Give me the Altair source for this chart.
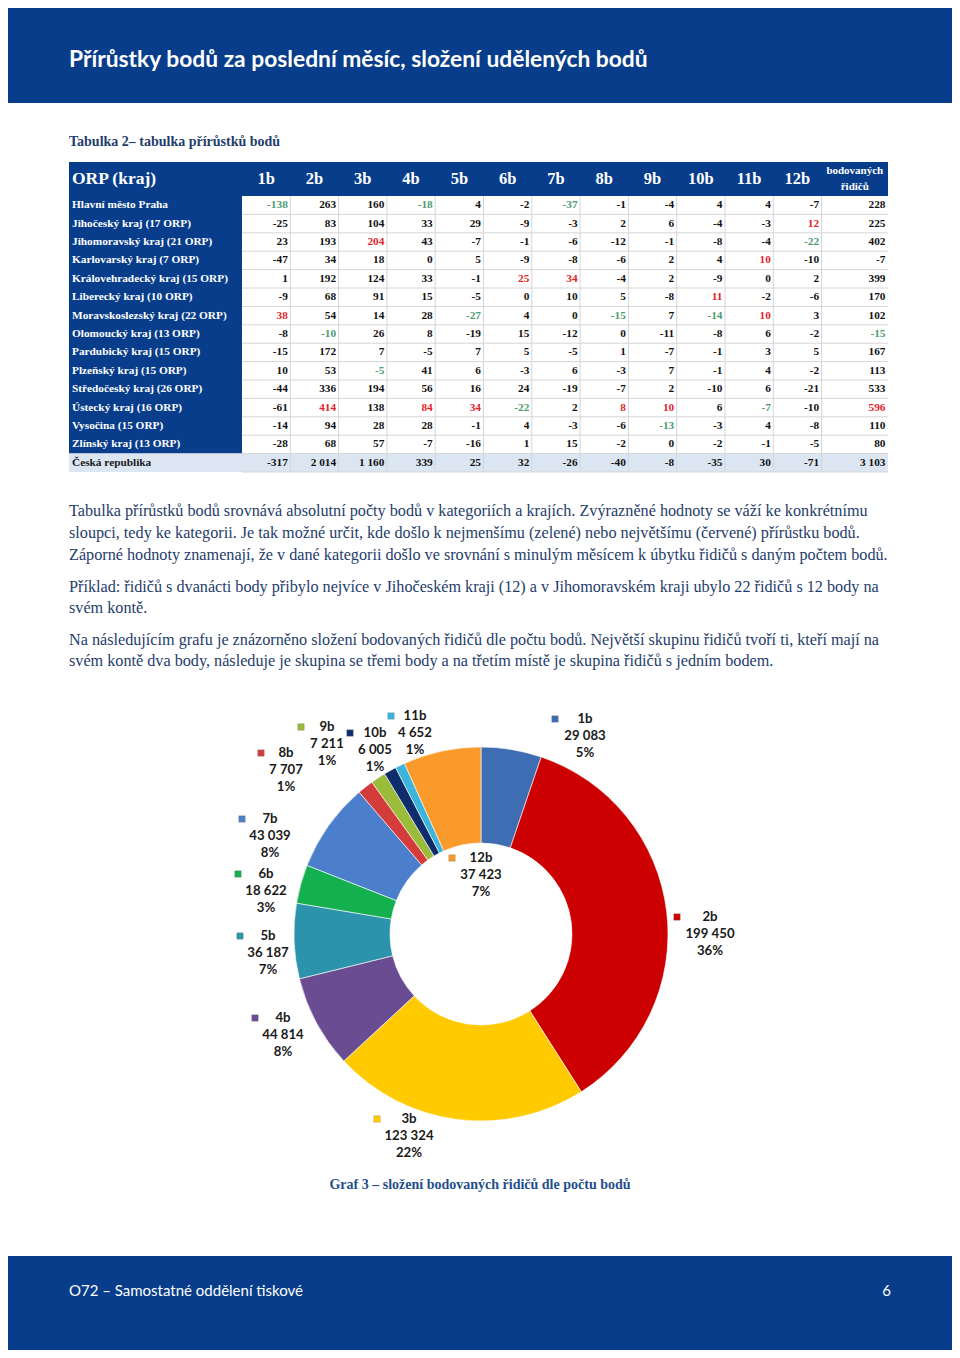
import altair as alt
import pandas as pd

# ---------------- data ----------------
regions = [
    "Hlavní město Praha", "Jihočeský kraj (17 ORP)", "Jihomoravský kraj (21 ORP)",
    "Karlovarský kraj (7 ORP)", "Královehradecký kraj (15 ORP)", "Liberecký kraj (10 ORP)",
    "Moravskoslezský kraj (22 ORP)", "Olomoucký kraj (13 ORP)", "Pardubický kraj (15 ORP)",
    "Plzeňský kraj (15 ORP)", "Středočeský kraj (26 ORP)", "Ústecký kraj (16 ORP)",
    "Vysočina (15 ORP)", "Zlínský kraj (13 ORP)", "Česká republika",
]
columns = ["1b", "2b", "3b", "4b", "5b", "6b", "7b", "8b", "9b", "10b", "11b", "12b", "total"]

praha = [-138, 263, 160, -18, 4, -2, -37, -1, -4, 4, 4, -7, 228]
jihocesky = [-25, 83, 104, 33, 29, -9, -3, 2, 6, -4, -3, 12, 225]
jihomoravsky = [23, 193, 204, 43, -7, -1, -6, -12, -1, -8, -4, -22, 402]
karlovarsky = [-47, 34, 18, 0, 5, -9, -8, -6, 2, 4, 10, -10, -7]
kralovehradecky = [1, 192, 124, 33, -1, 25, 34, -4, 2, -9, 0, 2, 399]
liberecky = [-9, 68, 91, 15, -5, 0, 10, 5, -8, 11, -2, -6, 170]
moravskoslezsky = [38, 54, 14, 28, -27, 4, 0, -15, 7, -14, 10, 3, 102]
olomoucky = [-8, -10, 26, 8, -19, 15, -12, 0, -11, -8, 6, -2, -15]
pardubicky = [-15, 172, 7, -5, 7, 5, -5, 1, -7, -1, 3, 5, 167]
plzensky = [10, 53, -5, 41, 6, -3, 6, -3, 7, -1, 4, -2, 113]
stredocesky = [-44, 336, 194, 56, 16, 24, -19, -7, 2, -10, 6, -21, 533]
ustecky = [-61, 414, 138, 84, 34, -22, 2, 8, 10, 6, -7, -10, 596]
vysocina = [-14, 94, 28, 28, -1, 4, -3, -6, -13, -3, 4, -8, 110]
zlinsky = [-28, 68, 57, -7, -16, 1, 15, -2, 0, -2, -1, -5, 80]
cr = [-317, 2014, 1160, 339, 25, 32, -26, -40, -8, -35, 30, -71, 3103]
table_rows = [praha, jihocesky, jihomoravsky, karlovarsky, kralovehradecky, liberecky,
              moravskoslezsky, olomoucky, pardubicky, plzensky, stredocesky, ustecky,
              vysocina, zlinsky, cr]

categories = ["1b", "2b", "3b", "4b", "5b", "6b", "7b", "8b", "9b", "10b", "11b", "12b"]
drivers = [29083, 199450, 123324, 44814, 36187, 18622, 43039, 7707, 7211, 6005, 4652, 37423]
percent_labels = ["5%", "36%", "22%", "8%", "7%", "3%", "8%", "1%", "1%", "1%", "1%", "7%"]

paragraph_lines = [
    "Tabulka přírůstků bodů srovnává absolutní počty bodů v kategoriích a krajích. Zvýrazněné hodnoty se váží ke konkrétnímu",
    "sloupci, tedy ke kategorii. Je tak možné určit, kde došlo k nejmenšímu (zelené) nebo největšímu (červené) přírůstku bodů.",
    "Záporné hodnoty znamenají, že v dané kategorii došlo ve srovnání s minulým měsícem k úbytku řidičů s daným počtem bodů.",
    "Příklad: řidičů s dvanácti body přibylo nejvíce v Jihočeském kraji (12) a v Jihomoravském kraji ubylo 22 řidičů s 12 body na",
    "svém kontě.",
    "Na následujícím grafu je znázorněno složení bodovaných řidičů dle počtu bodů. Největší skupinu řidičů tvoří ti, kteří mají na",
    "svém kontě dva body, následuje je skupina se třemi body a na třetím místě je skupina řidičů s jedním bodem.",
]

# ---------------- styles / layout ----------------
BLUE = "#073D8A"
TXT_BLUE = "#1F3D6B"
RED = "#E0252B"
GREEN = "#4E9B73"
GRID = "#D6D6D6"
LIGHT = "#DCE6F2"
slice_colors = ["#3E6DB3", "#CC0000", "#FFCA00", "#6A4C93", "#2C93AD", "#14B04F",
                "#4B7FCB", "#D43C3C", "#9BBB3B", "#0F2D6B", "#3CB4DC", "#F99A2A"]
SERIF = "Liberation Serif"
SANS = "Lato"

W, H = 944, 1342
xs = alt.Scale(domain=[8, 8 + W], nice=False, zero=False)
ys = alt.Scale(domain=[8, 8 + H], nice=False, zero=False, reverse=True)


def X(f="x"):
    return alt.X(f"{f}:Q", scale=xs, axis=None)


def Y(f="y"):
    return alt.Y(f"{f}:Q", scale=ys, axis=None)


# table geometry
T_LEFT, T_RIGHT = 69, 888
FIRST_COL_R = 242
COL_W = 48.3
HDR_TOP, HDR_BOT = 162, 196
ROW_H = 18.4
col_edges = [FIRST_COL_R + i * COL_W for i in range(13)] + [T_RIGHT]
n_rows = len(regions)
row_top = [HDR_BOT + i * ROW_H for i in range(n_rows)]
T_BOT = HDR_BOT + n_rows * ROW_H

# ---------------- rects ----------------
rects = [
    dict(x=8, x2=8 + W, y=8, y2=103, fill=BLUE),           # top banner
    dict(x=8, x2=8 + W, y=1256, y2=8 + H, fill=BLUE),      # footer
    dict(x=T_LEFT, x2=T_RIGHT, y=HDR_TOP, y2=HDR_BOT, fill=BLUE),
    dict(x=T_LEFT, x2=FIRST_COL_R, y=HDR_BOT, y2=row_top[-1], fill=BLUE),
    dict(x=T_LEFT, x2=T_RIGHT, y=row_top[-1], y2=T_BOT, fill=LIGHT),
]
rect_df = pd.DataFrame(rects)
rect_layer = alt.Chart(rect_df).mark_rect().encode(
    x=X(), x2="x2:Q", y=Y(), y2="y2:Q", color=alt.Color("fill:N", scale=None)
)

# grid lines
rules = []
for i in range(1, n_rows):
    rules.append(dict(x=FIRST_COL_R, x2=T_RIGHT, y=row_top[i], y2=row_top[i]))
rules.append(dict(x=FIRST_COL_R, x2=T_RIGHT, y=T_BOT, y2=T_BOT))
for e in col_edges[1:-1]:
    rules.append(dict(x=e, x2=e, y=HDR_BOT, y2=T_BOT))
rule_layer = alt.Chart(pd.DataFrame(rules)).mark_rule(color=GRID, strokeWidth=1).encode(
    x=X(), x2="x2:Q", y=Y(), y2="y2:Q"
)


def text_layer(df, size, font, weight="normal", align="left", color_field=True, color="black"):
    enc = dict(x=X(), y=Y(), text="text:N")
    if color_field:
        enc["color"] = alt.Color("color:N", scale=None)
    else:
        enc["color"] = alt.value(color)
    return alt.Chart(df).mark_text(
        fontSize=size, font=font, fontWeight=weight, align=align, baseline="middle"
    ).encode(**enc)


layers = [rect_layer, rule_layer]

# banner title
layers.append(text_layer(pd.DataFrame([dict(x=69, y=60, text="Přírůstky bodů za poslední měsíc, složení udělených bodů")]),
                         22.8, SANS, "bold", "left", False, "white"))
# table caption
layers.append(text_layer(pd.DataFrame([dict(x=69, y=142, text="Tabulka 2– tabulka přírůstků bodů")]),
                         14, SERIF, "bold", "left", False, TXT_BLUE))
# table header
layers.append(text_layer(pd.DataFrame([dict(x=72, y=179, text="ORP (kraj)")]), 17.5, SERIF, "bold", "left", False, "white"))
hdr = [dict(x=(col_edges[j] + col_edges[j + 1]) / 2, y=179, text=categories[j]) for j in range(12)]
layers.append(text_layer(pd.DataFrame(hdr), 16.5, SERIF, "bold", "center", False, "white"))
tot_x = (col_edges[12] + col_edges[13]) / 2
layers.append(text_layer(pd.DataFrame([dict(x=tot_x, y=171, text="bodovaných"), dict(x=tot_x, y=187, text="řidičů")]),
                         11, SERIF, "bold", "center", False, "white"))

# region names
names = [dict(x=72, y=row_top[i] + ROW_H / 2, text=regions[i], color="white" if i < n_rows - 1 else "#1A1A1A")
         for i in range(n_rows)]
layers.append(text_layer(pd.DataFrame(names), 11.3, SERIF, "bold", "left"))


def fmt(v):
    s = f"{abs(v):,}".replace(",", " ")
    return ("-" if v < 0 else "") + s


cells = []
region_count = n_rows - 1
for j in range(len(columns)):
    col_vals = [table_rows[i][j] for i in range(region_count)]
    mx, mn = max(col_vals), min(col_vals)
    for i in range(n_rows):
        v = table_rows[i][j]
        c = "#111111"
        if i < region_count:
            if v == mx:
                c = RED
            elif v == mn:
                c = GREEN
        cells.append(dict(x=col_edges[j + 1] - 2.5, y=row_top[i] + ROW_H / 2, text=fmt(v), color=c))
layers.append(text_layer(pd.DataFrame(cells), 11.3, SERIF, "bold", "right"))

# paragraph
para_y = [511, 533, 555, 587, 608, 640, 661]
para = [dict(x=69, y=para_y[k], text=paragraph_lines[k]) for k in range(len(paragraph_lines))]
layers.append(text_layer(pd.DataFrame(para), 16.2, SERIF, "normal", "left", False, TXT_BLUE))

# ---------------- donut ----------------
CX, CY = 481, 934
donut_df = pd.DataFrame(dict(cat=categories, value=drivers, idx=list(range(12)), color=slice_colors))
arc_layer = alt.Chart(donut_df).mark_arc(innerRadius=91, outerRadius=187, stroke="white", strokeWidth=0.6).encode(
    theta=alt.Theta("value:Q", stack=True),
    order=alt.Order("idx:Q"),
    color=alt.Color("color:N", scale=None),
    x=alt.value(CX - 8),
    y=alt.value(CY - 8),
)
layers.append(arc_layer)

label_anchor = [(585, 719), (710, 917), (409, 1119), (283, 1018), (268, 936), (266, 874),
                (270, 819), (286, 753), (327, 727), (375, 733), (415, 716), (481, 858)]
marker_x = [555, 677, 377, 255, 240, 238, 242, 261, 301, 350, 391, 452]
lab_rows, markers = [], []
for k in range(12):
    ax, ay = label_anchor[k]
    texts = [categories[k], fmt(drivers[k]), percent_labels[k]]
    for li, t in enumerate(texts):
        lab_rows.append(dict(x=ax, y=ay + li * 17.2, text=t))
    markers.append(dict(x=marker_x[k], y=ay, color=slice_colors[k]))
layers.append(alt.Chart(pd.DataFrame(markers)).mark_square(size=42, opacity=1, stroke="#777777", strokeWidth=0.3).encode(
    x=X(), y=Y(), color=alt.Color("color:N", scale=None)))
layers.append(text_layer(pd.DataFrame(lab_rows), 13.2, SANS, "bold", "center", False, "#1A1A1A"))

# caption
layers.append(text_layer(pd.DataFrame([dict(x=480, y=1185, text="Graf 3 – složení bodovaných řidičů dle počtu bodů")]),
                         14, SERIF, "bold", "center", False, "#1F4E8C"))
# footer
layers.append(text_layer(pd.DataFrame([dict(x=69, y=1291, text="O72 – Samostatné oddělení tiskové")]),
                         15, SANS, "normal", "left", False, "white"))
layers.append(text_layer(pd.DataFrame([dict(x=891, y=1291, text="6")]),
                         15, SANS, "normal", "right", False, "white"))

chart = alt.layer(*layers).properties(
    width=W, height=H, padding=0, autosize=alt.AutoSizeParams(type="none")
).configure_view(stroke=None)

chart.save("out.html", embed_options={"renderer": "svg", "actions": False})
